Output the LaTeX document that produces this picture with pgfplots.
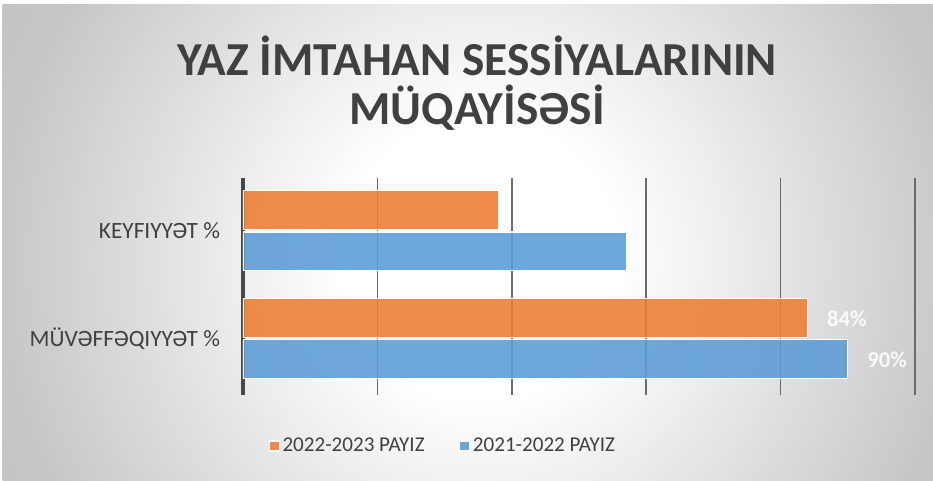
\documentclass[border=0pt]{standalone}
\usepackage{pgfplots}
\pgfplotsset{compat=1.18}
\usepackage{fontspec}
\setmainfont{Carlito}
\definecolor{txt}{RGB}{64,64,64}
\definecolor{borange}{RGB}{237,125,49}
\definecolor{bblue}{RGB}{91,155,213}
\pgfdeclareradialshading{bgshade}{\pgfpoint{0bp}{0bp}}{color(0bp)=(white); color(6.5bp)=(white); color(22.5bp)=(black!22); color(25bp)=(black!23); color(50bp)=(black!23)}
\begin{document}
\begin{tikzpicture}
\fill[white] (0,0) rectangle (699.75pt,360pt);
\begin{scope}
\clip (2pt,0pt) rectangle (699.75pt,357pt);
\shade[shading=bgshade] (-40pt,-235pt) rectangle (760pt,565pt);
\end{scope}
\node[anchor=base, font=\fontsize{35.5}{38}\selectfont\bfseries, text=txt] at (357.75pt,303.75pt) {YAZ İMTAHAN SESSİYALARININ};
\node[anchor=base, font=\fontsize{35.5}{38}\selectfont\bfseries, text=txt] at (357.75pt,267pt) {MÜQAYİSƏSİ};
\begin{axis}[
  at={(182.25pt,63.75pt)}, anchor=south west,
  scale only axis, width=504pt, height=162.75pt,
  xbar, bar width=0.36,
  xmin=0, xmax=100, ymin=-0.52, ymax=1.49,
  xtick={20,40,60,80,100}, xticklabels={},
  extra x ticks={0}, extra x tick labels={},
  extra x tick style={grid style={line width=2.3pt, color=black!72}},
  xmajorgrids, grid style={line width=1.3pt, color=black!58},
  ytick={0,1}, yticklabels={MÜVƏFFƏQIYYƏT \%, KEYFIYYƏT \%},
  yticklabel style={font=\fontsize{17.5}{20}\selectfont, text=txt, inner sep=0pt, xshift=-17pt},
  major tick length=0pt,
  axis line style={draw=none},
  point meta=explicit symbolic,
  nodes near coords,
  nodes near coords style={anchor=west, xshift=11pt, font=\fontsize{17}{20}\selectfont\bfseries, text=white},
  legend style={at={(0.298,-0.235)}, anchor=center, draw=none, fill=none, legend columns=2,
    font=\fontsize{15.8}{18}\selectfont, text=txt,
    /tikz/every even column/.append style={column sep=24pt}},
  legend image code/.code={\fill[#1] (0pt,-3.75pt) rectangle (7.5pt,3.75pt);},
]
\addplot[fill=borange, fill opacity=0.88, draw=white, line width=0.8pt, bar shift=0.19]
  coordinates {(84,0) [84\%] (38,1) []};
\addplot[fill=bblue, fill opacity=0.88, draw=white, line width=0.8pt, bar shift=-0.19]
  coordinates {(90,0) [90\%] (57,1) []};
\legend{2022-2023 PAYIZ, 2021-2022 PAYIZ}
\end{axis}
\end{tikzpicture}
\end{document}
